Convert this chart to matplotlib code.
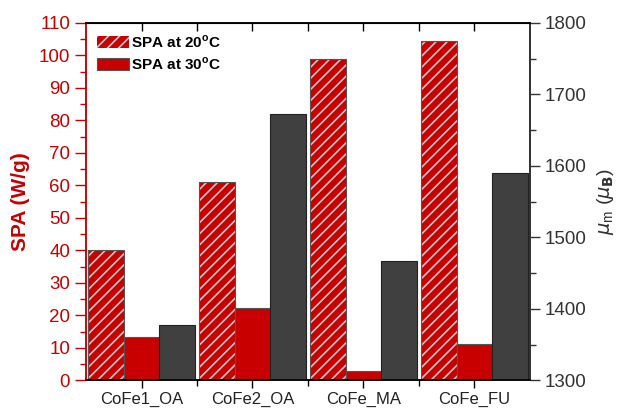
import matplotlib.pyplot as plt
import numpy as np

plt.rcParams['font.family'] = ['Liberation Sans', 'DejaVu Sans']
plt.rcParams['hatch.linewidth'] = 1.2

# data
samples = ['CoFe1_OA', 'CoFe2_OA', 'CoFe_MA', 'CoFe_FU']
spa_20 = [40, 61, 99, 104.3]
spa_30 = [13.2, 22.2, 3.0, 11.1]
mu_m = [1378, 1672, 1467, 1590]

red = '#c80000'
gray = '#404040'

fig = plt.figure(figsize=(6.19, 4.08), dpi=100)
ax = fig.add_axes([0.139, 0.068, 0.717, 0.876])
ax2 = ax.twinx()

x = np.arange(len(samples))
w = 0.32

# hatched bars: light hatch lines, then a dark outline on top
ax.bar(x - w, spa_20, w, color=red, edgecolor='#c8c8c8', hatch='///',
       linewidth=0, label='SPA at 20$^{\\mathregular{o}}$C')
ax.bar(x - w, spa_20, w, fill=False, edgecolor='#555555', linewidth=0.8)
ax.bar(x, spa_30, w, color=red, edgecolor='#555555', linewidth=0.8,
       label='SPA at 30$^{\\mathregular{o}}$C')
ax2.bar(x + w, mu_m, w, color=gray, edgecolor='#222222', linewidth=0.8)

ax.set_xlim(-0.5, 3.5)
ax.set_ylim(0, 110)
ax2.set_ylim(1300, 1800)

ax.set_xticks(x)
ax.set_xticklabels(samples, fontsize=12, color='#222222')
ax.set_xticks([0.5, 1.5, 2.5], minor=True)
ax.tick_params(axis='x', which='major', direction='out', length=6, width=1, pad=2)
ax.tick_params(axis='x', which='minor', direction='out', length=4, width=1)

top = ax.secondary_xaxis('top')
top.set_xticks(list(x) + [0.5, 1.5, 2.5])
top.set_xticklabels([])
top.tick_params(direction='in', length=6, width=1)

ax.set_yticks(np.arange(0, 111, 10))
ax.set_yticks(np.arange(5, 110, 10), minor=True)
ax.tick_params(axis='y', which='major', colors=red, labelsize=13.5,
               length=8, width=1)
ax.tick_params(axis='y', which='minor', colors=red, length=4, width=1)
ax.set_ylabel('SPA (W/g)', color=red, fontsize=15, fontweight='bold',
              labelpad=6)

ax2.set_yticks(np.arange(1300, 1801, 100))
ax2.set_yticks(np.arange(1350, 1800, 100), minor=True)
ax2.tick_params(axis='y', which='major', colors='#333333', labelsize=13.5,
                length=7, width=1)
ax2.tick_params(axis='y', which='minor', colors='#333333', length=4, width=1)
ax2.set_ylabel('$\\mu_{\\mathregular{m}}$ ($\\mu_{\\mathbf{B}}$)',
               color='#333333', fontsize=14, labelpad=6)

ax.spines['left'].set_color(red)
ax2.spines['left'].set_color(red)
ax2.spines['right'].set_color('#333333')
for s in ['left', 'right', 'top', 'bottom']:
    ax.spines[s].set_linewidth(1.1)
    ax2.spines[s].set_linewidth(1.1)

leg = ax.legend(loc='upper left', frameon=False, prop={'weight': 'bold', 'size': 11},
                handlelength=2.1, handleheight=0.9, handletextpad=0.15,
                labelspacing=0.35, borderaxespad=0.3)

fig.savefig('out.png', dpi=100)
